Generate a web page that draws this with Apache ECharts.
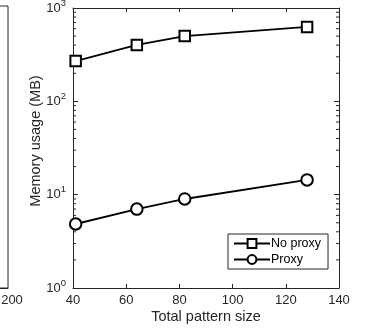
<!DOCTYPE html>
<html>
<head>
<meta charset="utf-8">
<script src="https://cdn.jsdelivr.net/npm/echarts@6/dist/echarts.min.js"></script>
<style>
  html, body { margin: 0; padding: 0; background: #fff; }
  #chart { width: 365px; height: 328px; }
</style>
</head>
<body>
<div id="chart"></div>
<script>
  // 数据
  var patternSize = [41, 64, 82, 128];
  var noProxy = [270, 402, 500, 627];
  var proxy = [4.85, 7.0, 9.0, 14.4];
  // log minor ticks
  var minorTicks = [2, 3, 4, 5, 6, 7, 8, 9, 20, 30, 40, 50, 60, 70, 80, 90, 200, 300, 400, 500, 600, 700, 800, 900];

  var axisColor = '#262626';
  var font = "'Liberation Sans', Arial, sans-serif";

  function pairs(xs, ys) {
    return xs.map(function (x, i) { return [x, ys[i]]; });
  }

  var chart = echarts.init(document.getElementById('chart'));
  var option = {
    animation: false,
    textStyle: { fontFamily: font },
    grid: [
      { left: 73, right: 26, top: 8, bottom: 40, outerBoundsMode: 'none' },
      // partial neighbour plot on the left edge
      { left: -300, width: 308, top: 6, bottom: 40, outerBoundsMode: 'none', show: true, borderColor: axisColor, borderWidth: 1 }
    ],
    legend: {
      orient: 'vertical',
      left: 228,
      top: 234,
      itemWidth: 36,
      itemHeight: 11,
      itemGap: 3,
      padding: [3, 7, 3, 5],
      borderColor: axisColor,
      borderWidth: 1,
      backgroundColor: '#fff',
      textStyle: { fontSize: 12.5, color: '#000', fontFamily: font, padding: [0, 0, 0, -4] },
      data: ['No proxy', 'Proxy']
    },
    xAxis: [{
      type: 'value',
      gridIndex: 0,
      min: 40,
      max: 140,
      interval: 20,
      name: 'Total pattern size',
      nameLocation: 'middle',
      nameGap: 21,
      nameMoveOverlap: false,
      nameTextStyle: { fontSize: 14.5, color: axisColor, fontFamily: font },
      axisLine: { lineStyle: { color: axisColor, width: 1 } },
      axisTick: { inside: true, length: 4, lineStyle: { color: axisColor } },
      axisLabel: { fontSize: 13, color: axisColor, margin: 6 },
      splitLine: { show: false }
    }, {
      type: 'value',
      gridIndex: 0,
      position: 'top',
      min: 40,
      max: 140,
      interval: 20,
      axisLine: { lineStyle: { color: axisColor, width: 1 } },
      axisTick: { inside: true, length: 4, lineStyle: { color: axisColor } },
      axisLabel: { show: false },
      splitLine: { show: false }
    }, {
      type: 'value',
      gridIndex: 1,
      min: 0,
      max: 200,
      interval: 50,
      axisLine: { lineStyle: { color: axisColor, width: 1 } },
      axisTick: { show: false },
      axisLabel: {
        fontSize: 13, color: axisColor, margin: 6, showMaxLabel: true,
        padding: [0, 0, 0, 8],
        formatter: function (v) { return v === 200 ? '200' : ''; }
      },
      splitLine: { show: false }
    }],
    yAxis: [{
      type: 'log',
      gridIndex: 0,
      logBase: 10,
      min: 1,
      max: 1000,
      name: 'Memory usage (MB)',
      nameLocation: 'middle',
      nameGap: 30,
      nameMoveOverlap: false,
      nameTextStyle: { fontSize: 14.5, color: axisColor, fontFamily: font, padding: [0, 0, 0, 14] },
      axisLine: { lineStyle: { color: axisColor, width: 1 } },
      axisTick: { inside: true, length: 5, lineStyle: { color: axisColor } },
      axisLabel: {
        margin: 7,
        color: axisColor,
        formatter: function (v) {
          return '{b|10}{sup|' + Math.round(Math.log10(v)) + '}';
        },
        rich: {
          b: { fontSize: 13, color: axisColor, fontFamily: font },
          sup: { fontSize: 9.5, color: axisColor, fontFamily: font, padding: [0, 0, 10, 0] }
        }
      },
      splitLine: { show: false }
    }, {
      type: 'log',
      gridIndex: 0,
      position: 'right',
      logBase: 10,
      min: 1,
      max: 1000,
      axisLine: { lineStyle: { color: axisColor, width: 1 } },
      axisTick: { inside: true, length: 5, lineStyle: { color: axisColor } },
      axisLabel: { show: false },
      splitLine: { show: false }
    }, {
      type: 'value',
      gridIndex: 1,
      position: 'right',
      min: 0,
      max: 6,
      interval: 1,
      axisLine: { lineStyle: { color: axisColor, width: 1 } },
      axisTick: { inside: true, length: 5, lineStyle: { color: axisColor } },
      axisLabel: { show: false },
      splitLine: { show: false }
    }],
    series: [{
      name: 'minor',
      type: 'custom',
      xAxisIndex: 0,
      yAxisIndex: 0,
      silent: true,
      data: minorTicks.map(function (v) { return [40, v]; }),
      renderItem: function (params, api) {
        var cs = params.coordSys;
        var y = api.coord([40, api.value(1)])[1];
        var style = { stroke: axisColor, lineWidth: 1 };
        return {
          type: 'group',
          children: [
            { type: 'line', shape: { x1: cs.x, y1: y, x2: cs.x + 3, y2: y }, style: style },
            { type: 'line', shape: { x1: cs.x + cs.width - 3, y1: y, x2: cs.x + cs.width, y2: y }, style: style }
          ]
        };
      }
    }, {
      name: 'No proxy',
      type: 'line',
      xAxisIndex: 0,
      yAxisIndex: 0,
      symbol: 'emptyRect',
      symbolSize: 10.5,
      itemStyle: { color: '#000', borderWidth: 1.8 },
      lineStyle: { color: '#000', width: 1.9 },
      data: pairs(patternSize, noProxy)
    }, {
      name: 'Proxy',
      type: 'line',
      xAxisIndex: 0,
      yAxisIndex: 0,
      symbol: 'emptyCircle',
      symbolSize: 11.5,
      itemStyle: { color: '#000', borderWidth: 1.8 },
      lineStyle: { color: '#000', width: 1.9 },
      data: pairs(patternSize, proxy)
    }]
  };
  chart.setOption(option);
</script>
</body>
</html>
